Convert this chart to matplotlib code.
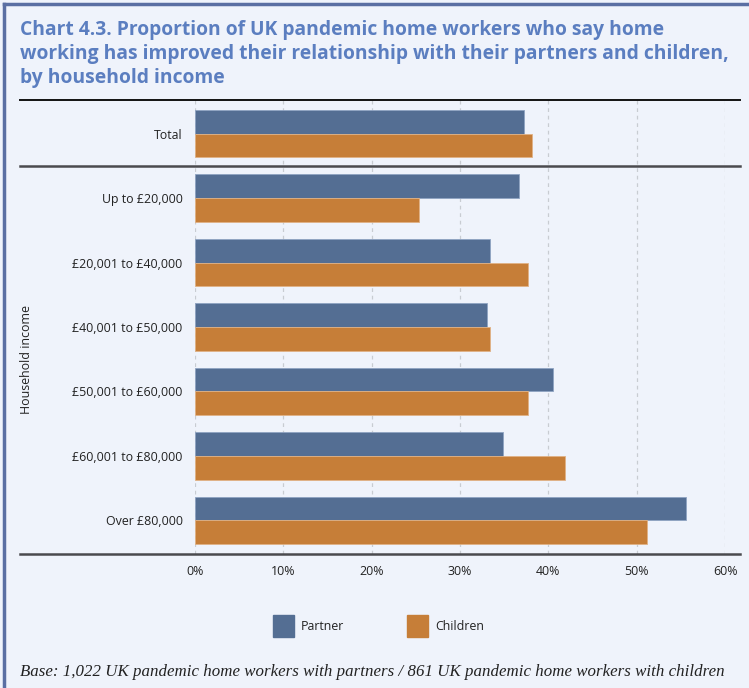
import numpy as np
import matplotlib.pyplot as plt
from matplotlib.lines import Line2D
from matplotlib.patches import Rectangle

# survey results (% saying relationship improved)
categories = ['Total', 'Up to £20,000', '£20,001 to £40,000', '£40,001 to £50,000',
              '£50,001 to £60,000', '£60,001 to £80,000', 'Over £80,000']
partner = [37.3, 36.7, 33.4, 33.1, 40.5, 34.9, 55.6]
children = [38.2, 25.4, 37.7, 33.4, 37.7, 41.9, 51.2]
xticks = [0, 10, 20, 30, 40, 50, 60]

bg = '#eff3fb'
c_partner = '#546e93'
c_children = '#c67e38'
title_col = '#5b7ec0'
W, H = 749, 688

fig = plt.figure(figsize=(W / 100, H / 100), dpi=100, facecolor=bg)

def fx(px):
    return px / W

def fy(py):
    return 1 - py / H

# frame on the left and top
fig.add_artist(Line2D([fx(4), fx(4)], [0, fy(4)], color='#5a6fa3', lw=2.5))
fig.add_artist(Line2D([fx(4), 1], [fy(4), fy(4)], color='#5a6fa3', lw=2.5))

fig.text(fx(20), fy(20), 'Chart 4.3. Proportion of UK pandemic home workers who say home\n'
         'working has improved their relationship with their partners and children,\n'
         'by household income', color=title_col, fontsize=13.9, fontweight='bold',
         family='Open Sans', va='top', ha='left', linespacing=1.27)

ax = fig.add_axes([fx(195), fy(554), fx(725) - fx(195), (554 - 100) / H])
ax.set_facecolor(bg)
y = np.arange(len(categories))
h = 0.37
ax.barh(y - h / 2, partner, height=h, color=c_partner, edgecolor='#8fa3c2', lw=0.6)
ax.barh(y + h / 2, children, height=h, color=c_children, edgecolor='#e0b285', lw=0.6)
ax.set_ylim(len(categories) - 0.5 + 0.02, -0.5 - 0.02)
ax.set_xlim(0, 60)
ax.set_yticks(y)
ax.set_yticklabels(categories, family='Open Sans', fontsize=8.9, color='#222222')
ax.set_xticks(xticks)
ax.set_xticklabels([f'{t}%' for t in xticks], family='Open Sans', fontsize=8.9, color='#222222')
ax.tick_params(length=0)
ax.tick_params(axis='y', pad=9)
ax.tick_params(axis='x', pad=8)
for s in ax.spines.values():
    s.set_visible(False)
ax.set_axisbelow(True)
ax.grid(axis='x', ls=(0, (3, 3)), color='#c8ccd2', lw=0.9)

# horizontal rules across the chart
fig.add_artist(Line2D([fx(20), fx(740)], [fy(100), fy(100)], color='#111111', lw=1.4))
fig.add_artist(Line2D([fx(20), fx(740)], [fy(166), fy(166)], color='#4a4a4e', lw=1.8))
fig.add_artist(Line2D([fx(20), fx(740)], [fy(554), fy(554)], color='#4a4a4e', lw=1.8))

fig.text(fx(27), fy(360), 'Household income', rotation=90, family='Open Sans',
         fontsize=8.9, color='#222222', ha='center', va='center')

# legend
for x0, col, lab in [(273, c_partner, 'Partner'), (407, c_children, 'Children')]:
    fig.add_artist(Rectangle((fx(x0), fy(637)), fx(21), 22 / H, color=col))
    fig.text(fx(x0 + 28), fy(626), lab, family='Open Sans', fontsize=8.9,
             color='#222222', va='center', ha='left')

fig.text(fx(20), fy(672), 'Base: 1,022 UK pandemic home workers with partners / '
         '861 UK pandemic home workers with children', family='Liberation Serif',
         style='italic', fontsize=12.2, color='#222222', va='center', ha='left')

fig.savefig('out.png', dpi=100, facecolor=bg)
